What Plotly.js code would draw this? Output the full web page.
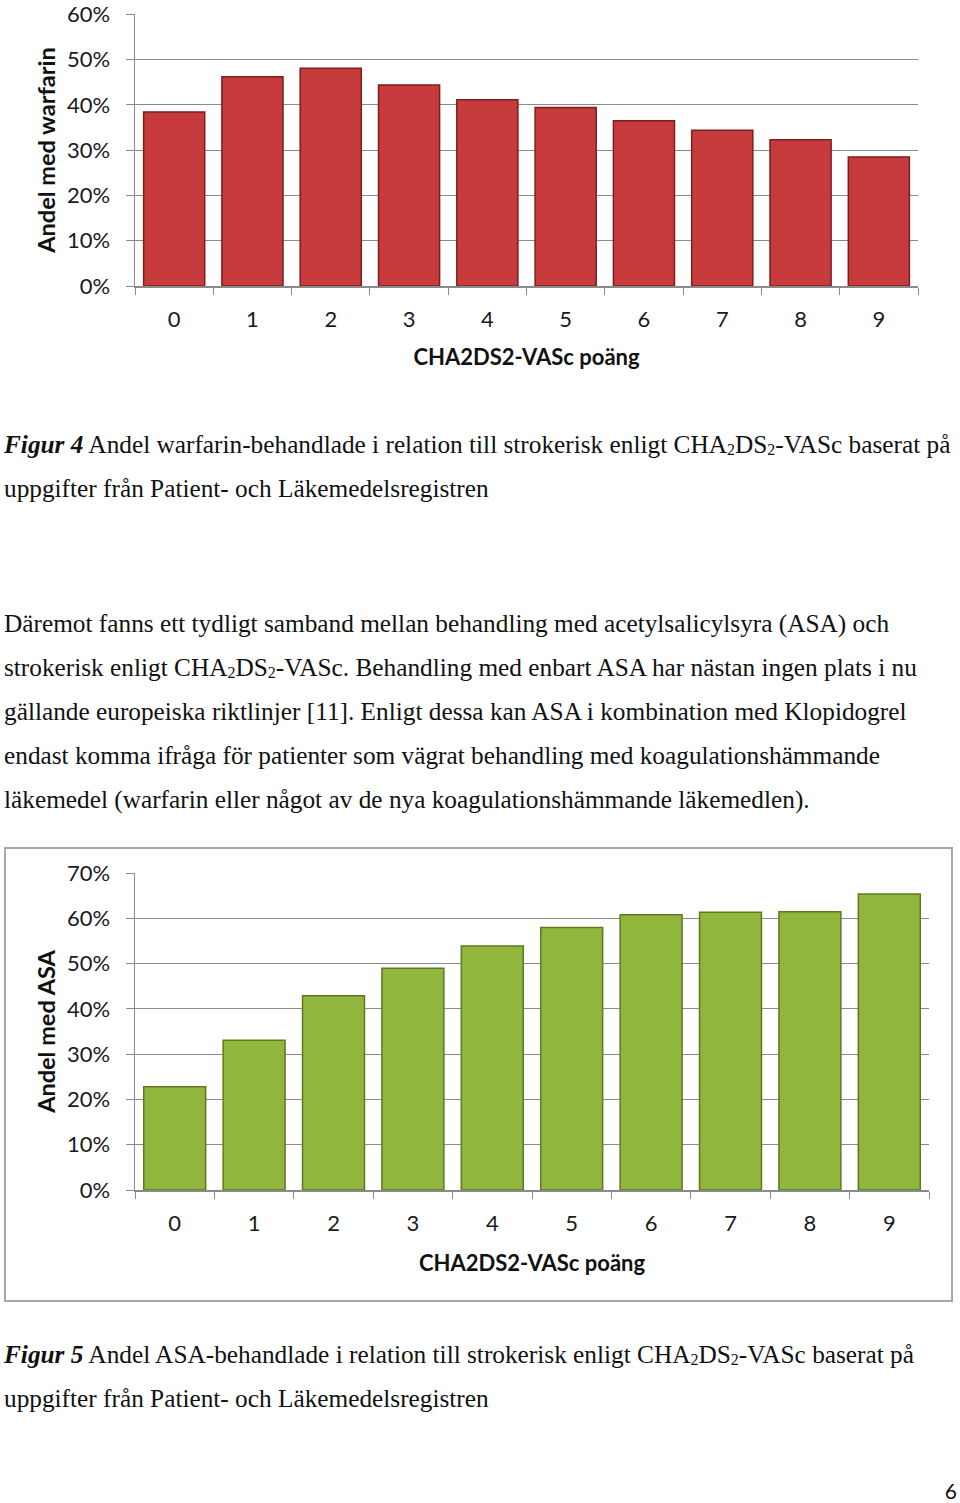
<!DOCTYPE html>
<html>
<head>
<meta charset="utf-8">
<script src="https://cdn.plot.ly/plotly-3.0.1.min.js"></script>
<style>
  body { margin: 0; background: #fff; }
  #page { position: relative; width: 960px; height: 1503px; overflow: hidden; }
  .txt {
    position: absolute; left: 4px;
    font-family: "Liberation Serif", "Times New Roman", serif;
    font-size: 25.3px; line-height: 44px; color: #111;
    white-space: nowrap;
  }
  .txt sub { font-size: 16px; vertical-align: -2px; line-height: 0; }
  #chart1 { position: absolute; left: 0; top: -15px; width: 960px; height: 395px; }
  #box2 {
    position: absolute; left: 4px; top: 847px; width: 949px; height: 455px;
    border: 2px solid #a8a8a8; box-sizing: border-box;
  }
  #chart2 { width: 945px; height: 451px; }
  #pagenr {
    position: absolute; right: 3px; top: 1478px;
    font-family: Lato, "Open Sans", sans-serif; font-size: 21px; color: #111;
  }
</style>
</head>
<body>
<div id="page">
  <div id="chart1"></div>

  <div class="txt" style="top:422px">
    <b><i>Figur 4</i></b> Andel warfarin-behandlade i relation till strokerisk enligt CHA<sub>2</sub>DS<sub>2</sub>-VASc baserat på<br>
    uppgifter från Patient- och Läkemedelsregistren
  </div>

  <div class="txt" style="top:601px">
    Däremot fanns ett tydligt samband mellan behandling med acetylsalicylsyra (ASA) och<br>
    strokerisk enligt CHA<sub>2</sub>DS<sub>2</sub>-VASc. Behandling med enbart ASA har nästan ingen plats i nu<br>
    gällande europeiska riktlinjer [11]. Enligt dessa kan ASA i kombination med Klopidogrel<br>
    endast komma ifråga för patienter som vägrat behandling med koagulationshämmande<br>
    läkemedel (warfarin eller något av de nya koagulationshämmande läkemedlen).
  </div>

  <div id="box2"><div id="chart2"></div></div>

  <div class="txt" style="top:1332px">
    <b><i>Figur 5</i></b> Andel ASA-behandlade i relation till strokerisk enligt CHA<sub>2</sub>DS<sub>2</sub>-VASc baserat på<br>
    uppgifter från Patient- och Läkemedelsregistren
  </div>

  <div id="pagenr">6</div>
</div>

<script>
// CHA2DS2-VASc score categories
var scores = ['0', '1', '2', '3', '4', '5', '6', '7', '8', '9']

// share treated
var warfarin = [0.384, 0.462, 0.481, 0.444, 0.411, 0.394, 0.365, 0.344, 0.323, 0.285]
var asa = [0.228, 0.331, 0.429, 0.490, 0.539, 0.580, 0.608, 0.614, 0.615, 0.654]

var xTitle = 'CHA2DS2-VASc poäng'
var gridcolour = '#8a8a8a'
var fontfamily = 'Lato, "Open Sans", sans-serif'

function bars(values, fill, edge) {
  return [{
    x: scores,
    y: values,
    type: 'bar',
    width: 0.78,
    marker: {
      color: fill,
      line: { color: edge, width: 1.5 }
    },
    hoverinfo: 'none'
  }]
}

function getLayout(yTitle, ymax, margin, xstand, ystand) {
  return {
    showlegend: false,
    paper_bgcolor: 'rgba(0,0,0,0)',
    plot_bgcolor: '#fff',
    font: { family: fontfamily, size: 22, color: '#1a1a1a' },
    margin: margin,
    xaxis: {
      type: 'category',
      showline: true,
      linecolor: gridcolour,
      linewidth: 1.5,
      ticks: 'outside',
      tickson: 'boundaries',
      ticklen: 7,
      tickcolor: gridcolour,
      ticklabelstandoff: 13,
      showgrid: false,
      title: {
        text: xTitle,
        font: { family: fontfamily, size: 22, weight: 'bold', color: '#111' },
        standoff: xstand
      }
    },
    yaxis: {
      // a hair over the top tick so the last gridline is kept
      range: [0, ymax + 0.0005],
      tick0: 0,
      dtick: 0.1,
      tickformat: '.0%',
      showline: true,
      linecolor: gridcolour,
      linewidth: 1.5,
      ticks: 'outside',
      ticklen: 8,
      tickcolor: gridcolour,
      ticklabelstandoff: 11,
      gridcolor: gridcolour,
      gridwidth: 1,
      zeroline: false,
      title: {
        text: yTitle,
        font: { family: fontfamily, size: 23.5, weight: 'bold', color: '#111' },
        standoff: ystand
      }
    }
  }
}

Plotly.newPlot(
  'chart1',
  bars(warfarin, '#c83b3c', '#7a1e1e'),
  getLayout('Andel med warfarin', 0.6, { l: 135, r: 42, t: 29, b: 94 }, 18, 4),
  { displayModeBar: false, staticPlot: true }
);

Plotly.newPlot(
  'chart2',
  bars(asa, '#90b63e', '#5c7a20'),
  getLayout('Andel med ASA', 0.7, { l: 129, r: 22, t: 24, b: 109 }, 20, 4),
  { displayModeBar: false, staticPlot: true }
);
</script>
</body>
</html>
